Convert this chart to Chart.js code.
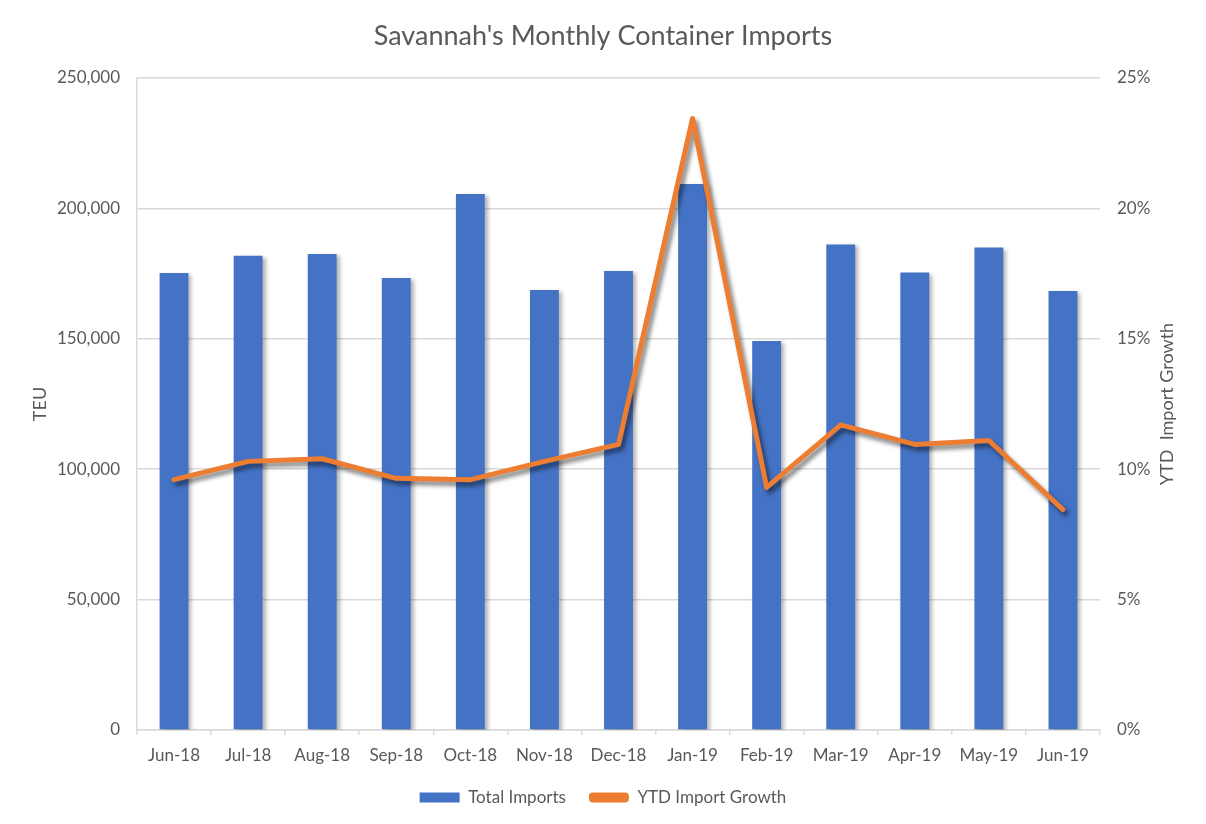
<!DOCTYPE html>
<html>
<head>
<meta charset="utf-8">
<script src="https://cdn.jsdelivr.net/npm/chart.js@4/dist/chart.umd.min.js"></script>
<style>
    html, body { margin: 0; padding: 0; background: #fff; }
    #wrap { width: 1206px; height: 824px; position: relative; }
</style>
</head>
<body>
<div id="wrap"><canvas id="importsChart"></canvas></div>
<script>
const months = ['Jun-18', 'Jul-18', 'Aug-18', 'Sep-18', 'Oct-18', 'Nov-18', 'Dec-18',
    'Jan-19', 'Feb-19', 'Mar-19', 'Apr-19', 'May-19', 'Jun-19'];
const totalImports = [175200, 181800, 182500, 173300, 205500, 168700, 176000,
    209400, 149200, 186200, 175400, 185000, 168300];
const ytdGrowth = [9.6, 10.3, 10.4, 9.65, 9.6, 10.3, 10.95,
    23.45, 9.3, 11.7, 10.95, 11.1, 8.45];

const textColor = '#595959';
const gridColor = '#d9d9d9';
const fontFamily = 'Lato, "Open Sans", sans-serif';

// soft drop shadow under bars and line, like the office chart
const shadowPlugin = {
    id: 'shadow',
    beforeDatasetDraw(chart, args) {
        const ctx = chart.ctx;
        ctx.save();
        if (args.meta.type === 'line') {
            ctx.shadowColor = 'rgba(0, 0, 0, 0.5)';
            ctx.shadowBlur = 4;
            ctx.shadowOffsetX = 3;
            ctx.shadowOffsetY = 4;
        } else {
            ctx.shadowColor = 'rgba(0, 0, 0, 0.3)';
            ctx.shadowBlur = 4;
            ctx.shadowOffsetX = 3;
            ctx.shadowOffsetY = 2;
        }
    },
    afterDatasetDraw(chart) {
        chart.ctx.restore();
    }
};

// right axis title reads bottom-to-top in the reference
const rightTitlePlugin = {
    id: 'rightTitle',
    afterDraw(chart) {
        const ctx = chart.ctx;
        const area = chart.chartArea;
        ctx.save();
        ctx.translate(1167, (area.top + area.bottom) / 2);
        ctx.rotate(-Math.PI / 2);
        ctx.fillStyle = textColor;
        ctx.font = '18px ' + fontFamily;
        ctx.textAlign = 'center';
        ctx.textBaseline = 'middle';
        ctx.fillText('YTD  Import Growth', 0, 0);
        ctx.restore();
    }
};

new Chart(document.getElementById('importsChart'), {
    data: {
        labels: months,
        datasets: [{
            type: 'bar',
            label: 'Total Imports',
            data: totalImports,
            backgroundColor: '#4472c4',
            barPercentage: 0.39,
            categoryPercentage: 1,
            yAxisID: 'y',
            order: 2
        }, {
            type: 'line',
            label: 'YTD Import Growth',
            data: ytdGrowth,
            borderColor: '#ed7d31',
            backgroundColor: '#ed7d31',
            borderWidth: 5,
            borderCapStyle: 'round',
            borderJoinStyle: 'round',
            pointRadius: 0,
            tension: 0,
            yAxisID: 'y1',
            order: 1
        }]
    },
    options: {
        responsive: true,
        maintainAspectRatio: false,
        animation: false,
        layout: {
            padding: { left: 0, right: 0, top: 0, bottom: 8 }
        },
        plugins: {
            title: {
                display: true,
                text: "Savannah's Monthly Container Imports",
                color: textColor,
                font: { family: fontFamily, size: 27, weight: 'normal' },
                padding: { top: 20, bottom: 25.6 }
            },
            legend: {
                position: 'bottom',
                labels: {
                    color: textColor,
                    font: { family: fontFamily, size: 17 },
                    boxWidth: 40,
                    boxHeight: 10,
                    padding: 23,
                    sort: (a, b) => a.datasetIndex - b.datasetIndex,
                    generateLabels(chart) {
                        const items = Chart.defaults.plugins.legend.labels.generateLabels(chart);
                        items.forEach(item => {
                            item.lineWidth = 0;
                            if (item.datasetIndex === 1) item.borderRadius = 4;
                        });
                        return items;
                    }
                }
            },
            tooltip: { enabled: false }
        },
        scales: {
            x: {
                grid: {
                    offset: true,
                    drawOnChartArea: false,
                    drawTicks: true,
                    tickLength: 5,
                    color: gridColor,
                    lineWidth: 1.5
                },
                border: { color: gridColor, width: 1.5 },
                ticks: {
                    color: textColor,
                    font: { family: fontFamily, size: 17 },
                    padding: 10,
                    maxRotation: 0
                },
                afterFit(scale) { scale.height = 36; }
            },
            y: {
                position: 'left',
                min: 0,
                max: 250000,
                ticks: {
                    stepSize: 50000,
                    color: textColor,
                    font: { family: fontFamily, size: 17 },
                    padding: 17,
                    callback: v => v.toLocaleString('en-US')
                },
                grid: { color: gridColor, lineWidth: 1.5, drawTicks: false },
                border: { color: gridColor, width: 1.5 },
                title: {
                    display: true,
                    text: 'TEU',
                    color: textColor,
                    font: { family: fontFamily, size: 18 },
                    padding: { top: 29 }
                },
                afterFit(scale) { scale.width = 137; }
            },
            y1: {
                position: 'right',
                min: 0,
                max: 25,
                ticks: {
                    stepSize: 5,
                    color: textColor,
                    font: { family: fontFamily, size: 17 },
                    padding: 17,
                    callback: v => v + '%'
                },
                grid: { drawOnChartArea: false, drawTicks: false },
                border: { display: false },
                afterFit(scale) { scale.width = 106; }
            }
        }
    },
    plugins: [shadowPlugin, rightTitlePlugin]
});
</script>
</body>
</html>
